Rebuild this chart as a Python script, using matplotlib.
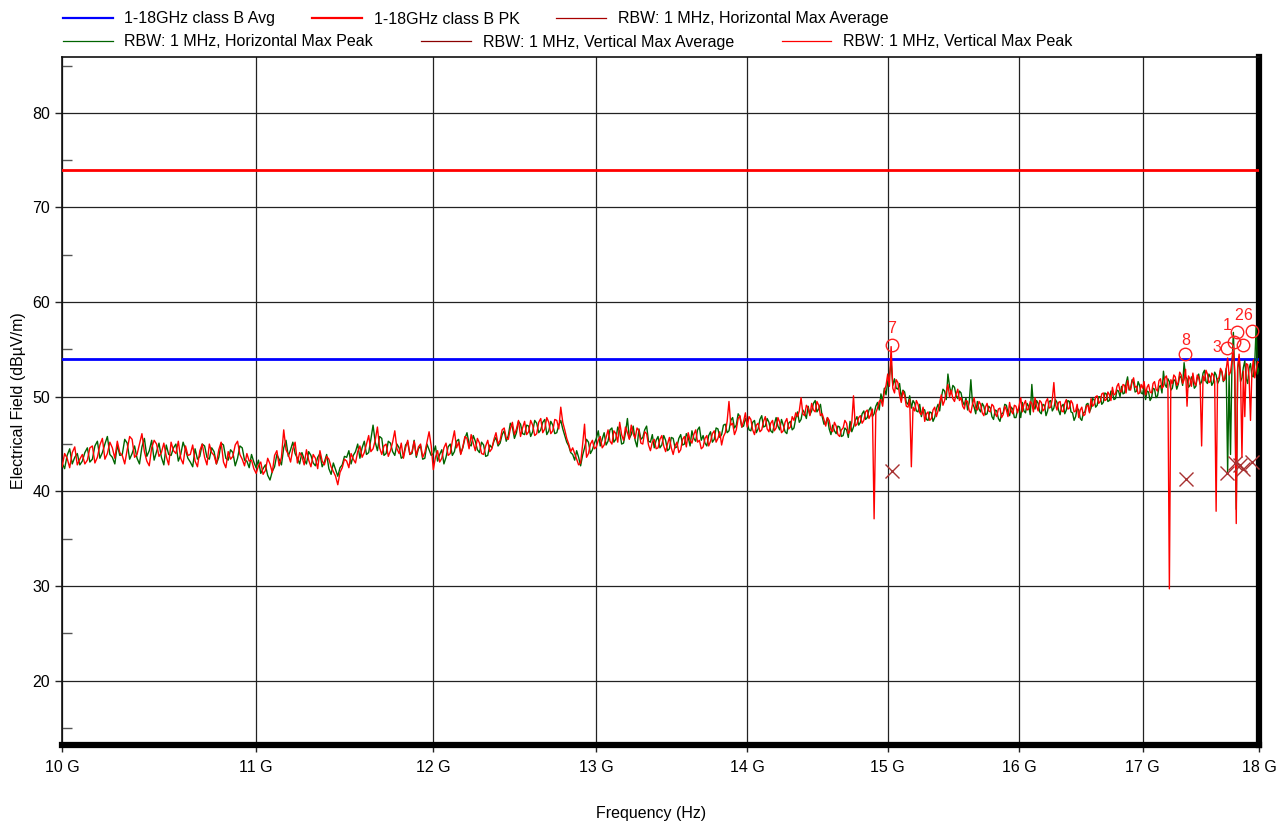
import numpy as np
import matplotlib
matplotlib.use('Agg')
import matplotlib.pyplot as plt
from matplotlib.lines import Line2D
from matplotlib.ticker import FuncFormatter, NullLocator

plt.rcParams['font.family'] = ['Liberation Sans', 'DejaVu Sans']

# sweep points, GHz (12.5 MHz step)
freq_ghz = np.linspace(10.0, 18.0, 641)

# RBW 1 MHz, Horizontal Max Peak (dBuV/m)
h_peak = [
    # 10 GHz
    43.0, 42.4, 43.8, 44.5, 42.9, 43.6, 44.0, 42.8, 43.2, 44.1, 44.6, 43.1, 43.4, 44.8, 45.3, 43.5, 44.1, 45.0, 45.8, 43.9,
    43.6, 42.9, 44.9, 43.8, 43.9, 45.5, 45.1, 43.4, 44.0, 44.8, 43.5, 42.9, 44.7, 45.6, 43.7, 44.3, 45.4, 43.3, 44.2, 45.1,
    43.6, 42.8, 44.9, 43.9, 43.8, 44.6, 45.0, 43.2, 43.9, 45.2, 44.4, 43.5, 43.1, 42.6, 44.5, 43.4, 43.7, 45.0, 44.8, 43.6,
    43.4, 44.6, 44.2, 42.9, 43.6, 45.1, 44.9, 43.5, 43.3, 44.4, 44.1, 42.7, 43.5, 44.8, 44.6, 43.3, 43.2, 42.5, 43.9, 43.1,
    # 11 GHz
    42.5, 43.3, 41.9, 42.4, 42.8, 41.7, 41.2, 42.1, 42.6, 43.9, 43.4, 42.8, 44.6, 45.4, 43.7, 44.4, 45.2, 44.0, 43.5, 42.9,
    44.1, 43.4, 42.9, 44.2, 43.8, 43.0, 42.7, 43.6, 44.0, 42.6, 43.1, 43.9, 42.4, 41.8, 43.0, 42.3, 41.6, 42.5, 42.8, 43.7,
    43.6, 44.3, 42.9, 43.8, 44.2, 45.0, 43.5, 44.6, 45.3, 43.9, 44.1, 45.5, 47.0, 45.2, 44.3, 45.8, 45.6, 43.8, 44.0, 45.3,
    45.1, 44.2, 43.8, 45.0, 44.6, 43.5, 43.7, 44.9, 45.2, 43.9, 44.0, 45.4, 43.6, 44.5, 44.8, 43.4, 43.5, 45.0, 44.4, 43.8,
    # 12 GHz
    44.0, 44.8, 43.2, 43.9, 44.4, 42.9, 43.6, 44.7, 45.0, 43.8, 44.2, 45.3, 45.5, 44.0, 44.6, 45.6, 46.2, 45.0, 44.8, 45.9,
    45.3, 44.4, 44.1, 45.2, 44.9, 43.7, 43.8, 44.9, 44.6, 45.3, 45.7, 44.8, 45.1, 46.0, 46.4, 45.3, 45.9, 47.2, 46.8, 45.6,
    46.2, 47.4, 47.1, 46.1, 46.0, 47.0, 46.9, 45.8, 46.3, 47.5, 47.2, 46.2, 46.5, 47.3, 47.6, 46.0, 46.4, 47.4, 47.0, 46.1,
    46.2, 47.0, 47.5, 46.6, 45.9, 45.2, 44.8, 44.1, 43.9, 43.3, 44.3, 43.6, 42.7, 43.8, 44.6, 45.5, 45.2, 44.0, 44.4, 45.1,
    # 13 GHz
    45.6, 46.4, 44.8, 45.5, 46.2, 44.9, 45.3, 46.5, 46.7, 45.2, 45.5, 46.8, 46.3, 45.0, 45.1, 46.2, 47.7, 45.6, 46.0, 46.9,
    45.4, 44.7, 46.6, 45.5, 45.7, 46.5, 46.9, 45.3, 45.2, 46.0, 44.6, 45.4, 45.8, 44.6, 44.9, 45.9, 45.4, 44.3, 44.5, 45.7,
    45.6, 44.6, 44.7, 45.6, 46.0, 44.9, 45.0, 46.1, 45.7, 44.8, 46.4, 45.6, 45.3, 46.5, 46.8, 45.4, 45.9, 45.1, 44.8, 45.9,
    46.3, 45.2, 45.5, 46.7, 46.6, 45.7, 46.0, 47.0, 47.1, 46.2, 46.4, 47.5, 47.8, 46.7, 47.0, 48.2, 47.9, 46.8, 46.9, 47.7,
    # 14 GHz
    47.2, 46.5, 46.4, 47.3, 47.5, 46.2, 46.6, 47.6, 48.0, 46.8, 46.9, 47.7, 47.3, 46.4, 46.2, 47.1, 47.8, 46.9, 46.5, 47.6,
    47.0, 46.3, 46.1, 47.2, 47.4, 46.5, 46.7, 47.7, 48.4, 47.3, 47.6, 48.6, 48.3, 47.7, 49.0, 48.1, 48.5, 49.3, 49.6, 48.4,
    48.7, 49.2, 47.9, 47.1, 47.2, 47.8, 46.6, 46.0, 47.0, 46.4, 46.1, 46.9, 46.8, 45.8, 45.9, 46.7, 46.5, 45.7, 47.4, 46.3,
    46.8, 47.5, 47.9, 47.0, 47.3, 48.2, 48.5, 47.6, 47.8, 48.6, 48.9, 47.9, 48.2, 49.0, 49.4, 48.6, 50.3, 49.5, 50.9, 50.2,
    # 15 GHz
    51.6, 52.3, 53.6, 51.2, 51.9, 50.9, 50.8, 51.4, 49.9, 50.7, 50.5, 49.4, 49.2, 50.1, 48.8, 49.6, 49.3, 48.5, 48.4, 49.2,
    47.9, 48.7, 48.6, 47.6, 47.5, 48.4, 48.3, 47.4, 47.8, 48.7, 49.2, 48.5, 49.9, 50.8, 50.6, 49.7, 52.4, 51.1, 50.3, 51.2,
    51.0, 50.1, 49.8, 50.6, 50.4, 49.5, 49.1, 49.9, 48.6, 49.4, 51.8, 49.3, 48.9, 48.2, 49.5, 48.7, 48.4, 49.3, 49.0, 48.1,
    48.2, 49.0, 48.8, 47.9, 47.6, 48.6, 48.5, 47.7, 47.4, 48.2, 48.3, 49.2, 49.1, 48.3, 48.0, 48.9, 48.7, 47.8, 47.8, 48.6,
    # 16 GHz
    48.6, 47.8, 49.4, 48.5, 48.3, 49.3, 49.0, 48.1, 51.3, 49.0, 48.7, 49.6, 49.3, 48.4, 48.2, 49.2, 49.1, 48.0, 48.5, 49.5,
    49.6, 48.5, 48.8, 49.7, 49.4, 48.6, 48.1, 49.0, 49.2, 48.2, 48.6, 49.6, 49.5, 48.4, 48.3, 47.5, 47.9, 48.8, 48.6, 47.7,
    47.5, 48.3, 48.4, 49.2, 49.3, 48.4, 48.8, 49.8, 49.7, 48.9, 49.1, 50.0, 50.0, 49.2, 49.4, 50.4, 50.3, 49.5, 49.6, 50.6,
    50.5, 49.7, 49.8, 50.7, 50.6, 50.0, 51.1, 50.3, 50.4, 51.4, 52.1, 50.7, 50.9, 51.8, 51.5, 50.5, 50.6, 51.6, 51.2, 50.4,
    # 17 GHz
    50.3, 51.1, 49.7, 50.6, 50.5, 49.6, 49.9, 50.9, 50.8, 49.9, 50.1, 51.0, 51.2, 50.4, 52.7, 51.3, 51.0, 51.9, 51.6, 50.7,
    50.9, 51.8, 51.7, 50.8, 51.3, 52.2, 52.0, 51.2, 53.6, 52.1, 51.9, 51.0, 51.2, 52.1, 51.8, 50.9, 51.1, 52.0, 52.4, 51.3,
    51.6, 52.5, 52.8, 51.6, 51.4, 52.4, 52.1, 51.2, 51.5, 52.6, 52.3, 51.4, 51.7, 52.8, 52.6, 51.6, 51.9, 53.0, 42.0, 52.4,
    43.9, 53.3, 56.8, 51.8, 38.1, 52.9, 54.2, 51.6, 52.0, 53.1, 53.8, 51.9, 51.4, 53.0, 53.5, 52.2, 52.1, 53.6, 57.4, 52.4,
    53.0,
]

# RBW 1 MHz, Vertical Max Peak (dBuV/m)
v_peak = [
    # 10 GHz
    42.6, 44.0, 43.5, 42.5, 44.1, 44.7, 42.8, 43.4, 43.9, 42.9, 43.3, 44.6, 44.8, 43.0, 43.6, 44.9, 45.6, 43.4, 44.0, 45.2,
    44.6, 43.5, 45.3, 44.1, 43.8, 42.9, 44.4, 45.8, 45.5, 43.6, 43.9, 45.0, 46.1, 44.2, 43.2, 42.7, 44.6, 45.4, 45.0, 43.7,
    44.1, 45.1, 43.7, 42.8, 45.2, 44.3, 44.0, 45.3, 43.5, 42.9, 44.8, 43.8, 43.9, 44.9, 43.2, 42.6, 44.3, 45.0, 43.6, 42.8,
    45.0, 44.1, 43.8, 42.9, 44.4, 45.2, 43.1, 42.5, 44.2, 43.4, 43.7, 44.9, 45.3, 43.9, 43.4, 42.7, 44.0, 43.2, 43.3, 42.4,
    # 11 GHz
    41.9, 42.7, 43.1, 41.8, 42.2, 43.5, 42.9, 42.0, 43.8, 44.3, 42.7, 43.6, 46.5, 44.4, 43.9, 43.1, 44.5, 45.2, 43.0, 44.1,
    43.7, 42.8, 44.4, 43.3, 42.6, 43.9, 43.5, 42.4, 44.3, 43.2, 42.8, 43.7, 43.4, 42.6, 42.1, 41.6, 40.7, 42.0, 42.5, 43.4,
    43.2, 42.5, 44.0, 43.4, 43.0, 44.2, 44.8, 43.6, 44.1, 45.0, 45.9, 44.2, 44.5, 45.4, 46.8, 44.6, 43.9, 44.8, 45.0, 43.7,
    44.3, 45.2, 46.4, 44.5, 44.0, 45.1, 43.5, 44.6, 45.4, 43.9, 44.2, 45.3, 43.8, 44.7, 45.0, 43.6, 44.1, 45.2, 46.3, 44.8,
    # 12 GHz
    42.3, 43.6, 44.3, 43.1, 43.5, 44.6, 45.1, 43.8, 44.0, 45.3, 46.4, 44.6, 45.2, 43.9, 44.7, 45.8, 45.6, 44.5, 46.0, 45.1,
    44.3, 45.6, 45.1, 44.0, 43.9, 44.8, 45.4, 44.2, 44.5, 45.5, 46.2, 45.0, 45.4, 46.5, 46.7, 45.6, 45.5, 46.6, 47.3, 46.0,
    46.6, 47.5, 45.8, 46.7, 47.4, 46.0, 46.3, 47.5, 47.0, 45.9, 46.1, 47.3, 47.7, 46.2, 46.6, 47.8, 47.3, 46.1, 46.4, 47.6,
    47.5, 46.6, 48.9, 47.3, 46.5, 45.6, 45.0, 44.2, 44.6, 44.0, 43.4, 42.8, 43.0, 44.9, 47.1, 43.6, 44.0, 45.0, 45.4, 44.5,
    # 13 GHz
    44.7, 45.4, 45.8, 44.6, 44.9, 45.7, 46.5, 45.3, 45.0, 46.4, 46.1, 45.2, 47.3, 46.0, 45.4, 46.8, 46.2, 45.5, 47.0, 46.1,
    45.6, 46.7, 46.4, 45.1, 45.0, 46.3, 46.1, 44.9, 44.3, 45.2, 45.5, 44.5, 44.6, 45.5, 45.9, 44.8, 44.2, 45.0, 45.7, 44.6,
    43.9, 44.8, 45.2, 44.1, 44.4, 45.5, 45.8, 44.7, 46.2, 45.4, 45.1, 46.0, 46.5, 45.2, 45.4, 44.5, 44.7, 45.6, 45.9, 44.8,
    45.3, 46.1, 46.4, 45.2, 45.6, 46.3, 44.9, 45.8, 46.2, 47.4, 49.5, 47.0, 47.2, 46.0, 46.5, 47.7, 48.0, 46.8, 47.4, 48.3,
    # 14 GHz
    46.8, 47.9, 47.6, 46.5, 46.0, 47.0, 47.2, 46.3, 46.5, 47.4, 47.9, 46.6, 46.3, 47.2, 47.5, 46.4, 46.7, 47.8, 47.3, 46.2,
    46.4, 47.3, 47.7, 46.6, 46.8, 47.9, 47.5, 48.3, 47.9, 48.5, 49.9, 48.2, 48.0, 49.1, 48.8, 48.0, 49.3, 48.6, 48.4, 49.5,
    49.1, 48.0, 48.2, 47.6, 46.9, 47.8, 47.5, 46.5, 46.3, 47.3, 46.9, 46.0, 45.8, 46.5, 46.7, 47.5, 47.2, 46.1, 46.4, 47.3,
    50.1, 46.9, 47.1, 47.8, 48.0, 47.2, 47.5, 48.4, 48.6, 47.7, 48.1, 48.7, 37.1, 48.3, 48.8, 49.5, 49.7, 49.0, 50.6, 51.2,
    # 15 GHz
    52.4, 51.1, 55.3, 50.9, 50.4, 51.8, 51.5, 50.2, 49.4, 50.6, 50.1, 49.0, 48.9, 49.7, 42.6, 48.9, 48.5, 49.6, 49.2, 48.3,
    48.1, 48.9, 47.4, 48.2, 48.4, 47.5, 47.7, 48.6, 48.9, 47.9, 48.5, 49.4, 50.2, 49.1, 49.6, 50.5, 51.3, 50.0, 50.7, 49.8,
    49.5, 50.3, 50.8, 49.6, 49.9, 49.0, 48.7, 49.6, 49.5, 48.5, 48.3, 49.2, 49.9, 48.8, 48.6, 49.5, 49.2, 48.3, 48.0, 48.9,
    49.3, 48.5, 48.4, 49.2, 49.0, 48.2, 47.9, 48.7, 48.8, 47.8, 48.1, 49.0, 48.6, 47.9, 49.4, 48.5, 48.2, 49.1, 49.0, 48.3,
    # 16 GHz
    49.1, 49.9, 48.4, 49.2, 49.6, 48.6, 48.7, 49.5, 49.3, 48.4, 49.9, 49.0, 48.5, 49.6, 49.4, 48.5, 48.7, 49.5, 49.8, 48.8,
    48.9, 49.7, 51.5, 49.2, 48.6, 49.4, 49.5, 48.5, 48.4, 49.3, 49.7, 48.7, 48.8, 49.6, 49.3, 48.4, 48.5, 49.2, 47.8, 48.6,
    48.9, 48.0, 48.1, 49.0, 49.1, 48.3, 49.8, 49.0, 49.2, 50.0, 50.1, 49.3, 49.5, 50.3, 50.4, 49.6, 49.7, 50.5, 50.2, 49.6,
    51.0, 50.2, 50.3, 51.1, 51.4, 50.6, 50.5, 51.3, 51.2, 50.4, 51.7, 50.9, 50.7, 51.6, 52.0, 51.0, 51.1, 50.3, 50.4, 51.3,
    # 17 GHz
    50.9, 51.6, 50.2, 51.0, 51.3, 50.5, 50.4, 51.4, 51.6, 50.8, 50.6, 51.7, 51.9, 50.9, 51.1, 52.0, 52.2, 51.3, 29.7, 51.8,
    51.4, 52.3, 52.1, 51.2, 51.5, 52.6, 52.3, 51.4, 51.8, 52.9, 49.0, 52.2, 51.9, 51.1, 52.5, 51.5, 51.2, 52.3, 52.0, 51.3,
    44.8, 52.2, 51.7, 52.8, 52.4, 51.5, 51.6, 52.5, 52.3, 51.6, 37.9, 51.9, 52.0, 53.0, 52.7, 51.7, 51.8, 52.9, 54.1, 52.3,
    52.6, 53.8, 55.0, 52.5, 36.6, 53.1, 54.5, 52.4, 43.6, 52.7, 47.9, 53.5, 53.4, 52.1, 47.5, 52.6, 53.9, 52.0, 52.8, 53.7,
    53.6,
]

# limits
limit_avg = 54.0
limit_pk = 74.0

# peak markers (circles) and their numbers
pk_labels = ['1', '2', '3', '', '6', '7', '8']
pk_freq_ghz = [17.78, 17.81, 17.72, 17.86, 17.94, 15.03, 17.36]
pk_level = [55.8, 56.8, 55.2, 55.5, 56.9, 55.5, 54.5]

# average readings (x)
avg_freq_ghz = [15.03, 17.37, 17.72, 17.79, 17.83, 17.86, 17.94]
avg_level = [42.2, 41.3, 41.9, 43.0, 42.8, 42.4, 43.1]

freq = freq_ghz * 1e9

fig = plt.figure(figsize=(12.77, 8.23), dpi=100)
ax = fig.add_axes([0.0486, 0.0948, 0.9373, 0.8359])

ax.axhline(limit_avg, color='#0000ff', lw=2, zorder=3)
ax.axhline(limit_pk, color='#ff0000', lw=2, zorder=3)
ax.plot(freq, h_peak, color='#006400', lw=1, zorder=4)
ax.plot(freq, v_peak, color='#ff0000', lw=1, zorder=5)

ax.plot(np.array(pk_freq_ghz) * 1e9, pk_level, ls='none', marker='o', ms=9,
        mfc='none', mec='#ff2020', mew=1, zorder=6)
ax.plot(np.array(avg_freq_ghz) * 1e9, avg_level, ls='none', marker='x', ms=10,
        color='#a83232', mew=1, zorder=6)

# label offsets in points
lbl_offsets = {'1': (-5, 11.5), '2': (0.7, 12), '3': (-7.5, 0),
               '6': (-3, 11.5), '7': (0, 11.5), '8': (0, 10)}
for lbl, f, lv in zip(pk_labels, pk_freq_ghz, pk_level):
    if not lbl:
        continue
    ax.annotate(lbl, (f * 1e9, lv), xytext=lbl_offsets[lbl], textcoords='offset points',
                ha='center', va='center', color='#ff2020', fontsize=11.5, zorder=7)

ax.set_xscale('log')
ax.set_xlim(10e9, 18e9)
ax.set_xticks(np.arange(10, 19) * 1e9)
ax.xaxis.set_minor_locator(NullLocator())
ax.xaxis.set_major_formatter(FuncFormatter(lambda v, p: '%d G' % round(v / 1e9)))

ax.set_ylim(13.2, 85.9)
ax.set_yticks(np.arange(20, 81, 10))
ax.set_yticks(np.arange(15, 86, 10), minor=True)

ax.grid(True, which='major', color='#222222', lw=0.9)
ax.tick_params(axis='both', which='major', direction='out', length=5, width=1,
               labelsize=11.5, color='#222222')
ax.tick_params(axis='x', which='major', pad=6)
ax.tick_params(axis='y', which='minor', direction='in', length=7, width=1, color='#555555')

for side in ['left', 'top']:
    ax.spines[side].set_linewidth(1.2)
    ax.spines[side].set_color('#111111')
for side in ['bottom', 'right']:
    ax.spines[side].set_linewidth(4.5)
    ax.spines[side].set_color('black')

ax.set_xlabel('Frequency (Hz)', fontsize=11.5)
ax.set_ylabel('Electrical Field (dBµV/m)', fontsize=11.5)
ax.xaxis.set_label_coords(0.4925, -0.089)
ax.yaxis.set_label_coords(-0.030, 0.5)

# legend, two rows laid out like the original
row1 = [Line2D([], [], color='#0000ff', lw=1.6), Line2D([], [], color='#ff0000', lw=1.6),
        Line2D([], [], color='#a80000', lw=0.9)]
row2 = [Line2D([], [], color='#006400', lw=0.9), Line2D([], [], color='#8b0000', lw=0.9),
        Line2D([], [], color='#ff0000', lw=0.9)]
leg_kw = dict(loc='center left', ncol=3, frameon=False, fontsize=11.5,
              handlelength=3.1, handletextpad=0.75, borderpad=0, borderaxespad=0)
fig.legend(row1, ['1-18GHz class B Avg', '1-18GHz class B PK', 'RBW: 1 MHz, Horizontal Max Average'],
           bbox_to_anchor=(63 / 1277, 1 - 19 / 823), columnspacing=2.3, **leg_kw)
fig.legend(row2, ['RBW: 1 MHz, Horizontal Max Peak', 'RBW: 1 MHz, Vertical Max Average',
                  'RBW: 1 MHz, Vertical Max Peak'],
           bbox_to_anchor=(63 / 1277, 1 - 42 / 823), columnspacing=3.0, **leg_kw)

fig.savefig('out.png', dpi=100)
